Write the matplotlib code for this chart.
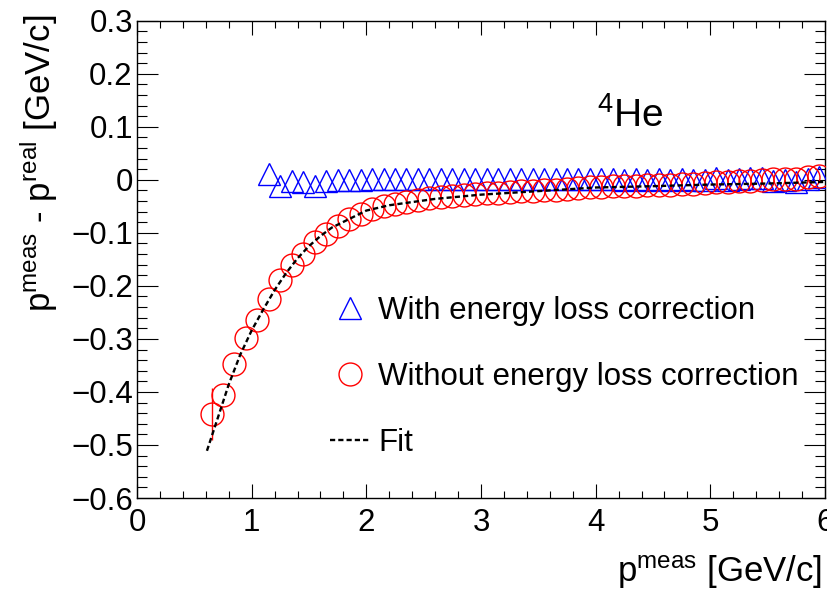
import matplotlib
matplotlib.use("Agg")
import matplotlib.pyplot as plt
from matplotlib.lines import Line2D
from matplotlib.ticker import MultipleLocator

plt.rcParams['font.family'] = ['Liberation Sans', 'DejaVu Sans']
plt.rcParams['mathtext.default'] = 'regular'

# ---------------- data ----------------
circ_x = [0.65, 0.75, 0.85, 0.95, 1.05, 1.15, 1.25, 1.35, 1.45, 1.55,
          1.65, 1.75, 1.85, 1.95, 2.05, 2.15, 2.25, 2.35, 2.45, 2.55,
          2.65, 2.75, 2.85, 2.95, 3.05, 3.15, 3.25, 3.35, 3.45, 3.55,
          3.65, 3.75, 3.85, 3.95, 4.05, 4.15, 4.25, 4.35, 4.45, 4.55,
          4.65, 4.75, 4.85, 4.95, 5.05, 5.15, 5.25, 5.35, 5.45, 5.55,
          5.65, 5.75, 5.85, 5.95]
circ_y = [-0.442, -0.405, -0.348, -0.298, -0.265, -0.225, -0.189, -0.161, -0.140, -0.118,
          -0.103, -0.087, -0.074, -0.065, -0.056, -0.050, -0.045, -0.041, -0.038, -0.035,
          -0.032, -0.030, -0.028, -0.027, -0.025, -0.024, -0.023, -0.022, -0.021, -0.020,
          -0.019, -0.017, -0.016, -0.014, -0.013, -0.012, -0.011, -0.011, -0.010, -0.009,
          -0.010, -0.008, -0.008, -0.006, -0.005, -0.004, -0.002, -0.002, -0.001, 0.001,
          0.001, 0.002, 0.006, 0.007]
circ_err = [0.049] + [0.0] * 53

tri_x = [1.15, 1.25, 1.35, 1.45, 1.55, 1.65, 1.75, 1.85, 1.95, 2.05,
         2.15, 2.25, 2.35, 2.45, 2.55, 2.65, 2.75, 2.85, 2.95, 3.05,
         3.15, 3.25, 3.35, 3.45, 3.55, 3.65, 3.75, 3.85, 3.95, 4.05,
         4.15, 4.25, 4.35, 4.45, 4.55, 4.65, 4.75, 4.85, 4.95, 5.05,
         5.15, 5.25, 5.35, 5.45, 5.55, 5.65, 5.75, 5.85, 5.95]
tri_y = [0.010, -0.012, -0.003, -0.004, -0.012, -0.002, -0.001, -0.001, 0.000, 0.001,
         0.001, 0.001, 0.001, 0.001, 0.001, 0.001, 0.001, 0.001, 0.001, 0.001,
         0.001, 0.001, 0.001, 0.001, 0.001, 0.001, 0.001, 0.001, 0.001, 0.001,
         0.001, 0.000, 0.001, 0.000, 0.001, 0.000, 0.001, -0.001, 0.000, 0.004,
         0.000, 0.002, 0.004, 0.004, -0.002, -0.001, -0.004, 0.002, 0.005]

fit_x = [0.61, 0.70, 0.80, 0.90, 1.00, 1.10, 1.20, 1.30, 1.40, 1.50,
         1.60, 1.70, 1.85, 2.00, 2.20, 2.40, 2.60, 2.80, 3.00, 3.30,
         3.60, 4.00, 4.50, 5.00, 5.50, 6.00]
fit_y = [-0.511, -0.452, -0.386, -0.330, -0.284, -0.245, -0.208, -0.176, -0.148, -0.125,
         -0.106, -0.090, -0.074, -0.058, -0.048, -0.042, -0.036, -0.032, -0.028, -0.024,
         -0.020, -0.0145, -0.012, -0.009, -0.007, -0.004]

legend_labels = ["With energy loss correction", "Without energy loss correction", "Fit"]
x_ticks = [0, 1, 2, 3, 4, 5, 6]
y_ticks = [-0.6, -0.5, -0.4, -0.3, -0.2, -0.1, 0, 0.1, 0.2, 0.3]
x_tick_labels = ["0", "1", "2", "3", "4", "5", "6"]
y_tick_labels = ["\u22120.6", "\u22120.5", "\u22120.4", "\u22120.3", "\u22120.2", "\u22120.1",
                 "0", "0.1", "0.2", "0.3"]

# ---------------- figure ----------------
W, H = 827, 591
fig = plt.figure(figsize=(W / 100, H / 100), dpi=100)
ax = fig.add_axes([137 / W, 1 - 498 / H, (825 - 137) / W, (498 - 20.7) / H])

blue = (0, 0, 1)
red = (1, 0, 0)
ms = 16.5

ax.plot(tri_x, tri_y, ls='none', marker='^', ms=ms, mfc='none', mec=blue, mew=1.0, zorder=3)
ax.errorbar(circ_x, circ_y, yerr=circ_err, ls='none', marker='o', ms=ms, mfc='none',
            mec=red, mew=1.0, ecolor=red, elinewidth=1.0, capsize=0, zorder=4)
ax.plot(fit_x, fit_y, color='black', lw=1.7, dashes=(2.2, 1.3), zorder=5)

ax.set_xlim(0, 6)
ax.set_ylim(-0.6, 0.3)
ax.set_xticks(x_ticks)
ax.set_xticklabels(x_tick_labels)
ax.set_yticks(y_ticks)
ax.set_yticklabels(y_tick_labels)
ax.xaxis.set_minor_locator(MultipleLocator(0.2))
ax.yaxis.set_minor_locator(MultipleLocator(0.02))
ax.tick_params(axis='both', which='both', direction='in', top=True, right=True,
               width=0.8, color='black', labelsize=22.5)
ax.tick_params(axis='x', which='major', length=10, pad=7)
ax.tick_params(axis='x', which='minor', length=5)
ax.tick_params(axis='y', which='major', length=15, pad=3)
ax.tick_params(axis='y', which='minor', length=7.5)
for s in ax.spines.values():
    s.set_linewidth(1.0)

# axis titles
fig.text(822 / W, 1 - 582 / H, r"p$^{meas}$ [GeV/c]", ha='right', va='baseline', fontsize=25)
fig.text(51 / W, 1 - 15 / H, r"p$^{meas}$ - p$^{real}$ [GeV/c]", ha='right', va='baseline',
         rotation=90, rotation_mode='anchor', fontsize=25)

# 4He label
fig.text(597 / W, 1 - 127 / H, r"$^{4}$He", ha='left', va='baseline', fontsize=28)

# legend
handles = [
    Line2D([], [], ls='none', marker='^', ms=ms, mfc='none', mec=blue, mew=1.0),
    Line2D([], [], ls='none', marker='o', ms=ms, mfc='none', mec=red, mew=1.0),
    Line2D([], [], color='black', lw=1.7, dashes=(2.2, 1.3)),
]
ax.legend(handles, legend_labels, loc='upper left', bbox_to_anchor=(330 / W, 1 - 296 / H),
          bbox_transform=fig.transFigure, frameon=False, fontsize=22.5, handlelength=1.3,
          handletextpad=0.25, labelspacing=1.15, borderpad=0, borderaxespad=0, numpoints=1)

fig.savefig("out.png", dpi=100)
